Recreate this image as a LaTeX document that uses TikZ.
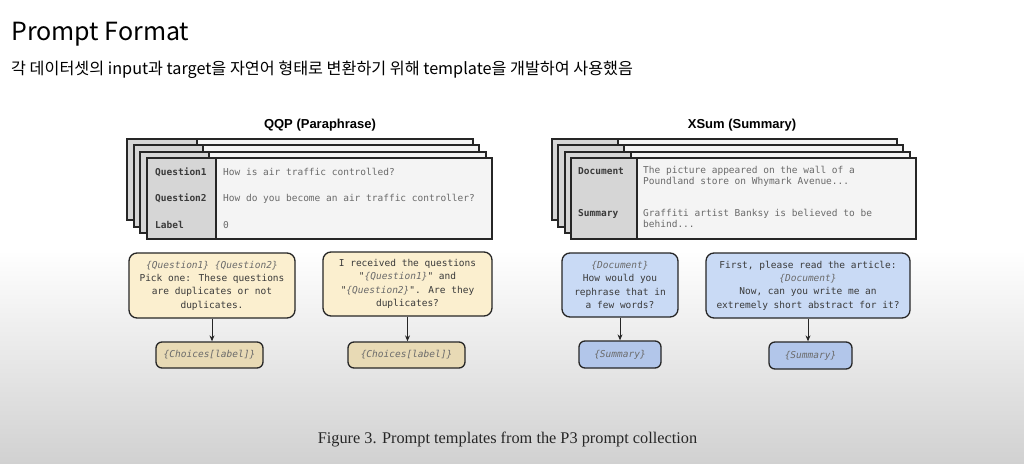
\documentclass[tikz,border=0pt]{standalone}
\usepackage{fontspec}
\usetikzlibrary{arrows.meta}
\setmainfont{Liberation Serif}
\newfontfamily\krfont{Noto Sans CJK KR}
\newfontfamily\mono{DejaVu Sans Mono}
\newfontfamily\headfont{Liberation Sans}
\definecolor{cardlab}{HTML}{D6D6D6}
\definecolor{cardbody}{HTML}{F4F4F4}
\definecolor{ybig}{HTML}{FBEFCF}
\definecolor{ysmall}{HTML}{E8DAB5}
\definecolor{bbig}{HTML}{C9DAF5}
\definecolor{bsmall}{HTML}{B2C6EA}
\definecolor{txtdark}{HTML}{3A3A3A}
\definecolor{txtgray}{HTML}{6A6A6A}
\begin{document}
\begin{tikzpicture}[x=1pt,y=-1pt,
  card/.style={draw=black!85,line width=1.2pt},
  lab/.style={anchor=west,inner sep=0pt,font=\mono\fontsize{9.5}{12}\selectfont\bfseries,text=txtdark},
  val/.style={anchor=west,inner sep=0pt,align=left,font=\mono\fontsize{9.5}{11}\selectfont,text=txtgray},
  tbox/.style={draw=black!85,line width=1.3pt,rounded corners=8pt,align=center,inner sep=0pt,
    font=\mono\fontsize{9.5}{13.3}\selectfont,text=txtdark},
  sbox/.style={draw=black!85,line width=1.3pt,rounded corners=6pt,align=center,inner sep=0pt,
    font=\mono\fontsize{9.5}{12}\selectfont\itshape,text=txtgray},
  arr/.style={-{Stealth[length=6pt,width=5pt]},line width=1pt,draw=black!85}]
\useasboundingbox (0,0) rectangle (1024,463);
\fill[white] (0,0) rectangle (1024,463);
\shade[top color=white,bottom color=black!18] (0,250) rectangle (1024,463);
\newcommand{\phx}[1]{{\itshape\color{txtgray}\{#1\}}}
% title
\node[anchor=base west,inner sep=0pt,font=\krfont\fontsize{25}{29}\selectfont] (title) at (11,40) {Prompt Format};
\node[anchor=base west,inner sep=0pt,font=\krfont\fontsize{16.2}{19}\selectfont] (sub) at (11,74) {각 데이터셋의 input과 target을 자연어 형태로 변환하기 위해 template을 개발하여 사용했음};
% dataset titles
\node[font=\headfont\fontsize{13}{15}\selectfont\bfseries] (qqpt) at (320,125) {QQP (Paraphrase)};
\node[font=\headfont\fontsize{13}{15}\selectfont\bfseries] (xsumt) at (742,125) {XSum (Summary)};
% QQP stack
\foreach \l/\t/\r/\b/\d in {127/139/473/220/197, 134/145/479/227/203, 140/152/486/233/209, 147/158/492/239/216}{
  \fill[cardlab] (\l,\t) rectangle (\d,\b);
  \fill[cardbody] (\d,\t) rectangle (\r,\b);
  \draw[card] (\l,\t) rectangle (\r,\b);
  \draw[card] (\d,\t) -- (\d,\b);
}
\node[lab] (q1l) at (155,172) {Question1};
\node[val] (q1v) at (223,172) {How is air traffic controlled?};
\node[lab] (q2l) at (155,198.5) {Question2};
\node[val] (q2v) at (223,198.5) {How do you become an air traffic controller?};
\node[lab] (qll) at (155,225) {Label};
\node[val] (qlv) at (223,225) {0};
% XSum stack
\foreach \l/\t/\r/\b/\d in {552/139/897/220/618, 558/145/903/227/624, 565/152/910/233/631, 571/158/916/239/637}{
  \fill[cardlab] (\l,\t) rectangle (\d,\b);
  \fill[cardbody] (\d,\t) rectangle (\r,\b);
  \draw[card] (\l,\t) rectangle (\r,\b);
  \draw[card] (\d,\t) -- (\d,\b);
}
\node[lab] (dl) at (578,171) {Document};
\node[val,anchor=north west] (dv) at (643,166) {The picture appeared on the wall of a\\Poundland store on Whymark Avenue...};
\node[lab] (sl) at (578,214) {Summary};
\node[val,anchor=north west] (sv) at (643,209) {Graffiti artist Banksy is believed to be\\behind...};
% template boxes
\node[tbox,fill=ybig,minimum width=166pt,minimum height=65pt] (y1) at (212,285.5)
  {\phx{Question1} \phx{Question2}\\Pick one: These questions\\are duplicates or not\\duplicates.};
\node[tbox,fill=ybig,minimum width=169pt,minimum height=64pt] (y2) at (407.5,284)
  {I received the questions\\"\phx{Question1}" and\\"\phx{Question2}". Are they\\duplicates?};
\node[tbox,fill=bbig,minimum width=116pt,minimum height=64pt] (b1) at (620,285)
  {\phx{Document}\\How would you\\rephrase that in\\a few words?};
\node[tbox,fill=bbig,minimum width=204pt,minimum height=65pt] (b2) at (808,285.5)
  {First, please read the article:\\\phx{Document}\\Now, can you write me an\\extremely short abstract for it?};
\node[sbox,fill=ysmall,minimum width=107pt,minimum height=26pt] (ys1) at (209.5,355) {\{Choices[label]\}};
\node[sbox,fill=ysmall,minimum width=117pt,minimum height=26pt] (ys2) at (406.5,355) {\{Choices[label]\}};
\node[sbox,fill=bsmall,minimum width=82pt,minimum height=27pt] (bs1) at (620,354.5) {\{Summary\}};
\node[sbox,fill=bsmall,minimum width=83pt,minimum height=27pt] (bs2) at (810.5,355.5) {\{Summary\}};
\draw[arr] (y1.south) -- (y1.south |- ys1.north);
\draw[arr] (y2.south) -- (y2.south |- ys2.north);
\draw[arr] (b1.south) -- (b1.south |- bs1.north);
\draw[arr] (b2.south) -- (b2.south |- bs2.north);
% caption
\node[font=\fontsize{16.3}{19}\selectfont,text=black!85] (cap) at (507.5,440) {Figure 3. Prompt templates from the P3 prompt collection};
\end{tikzpicture}
\end{document}
